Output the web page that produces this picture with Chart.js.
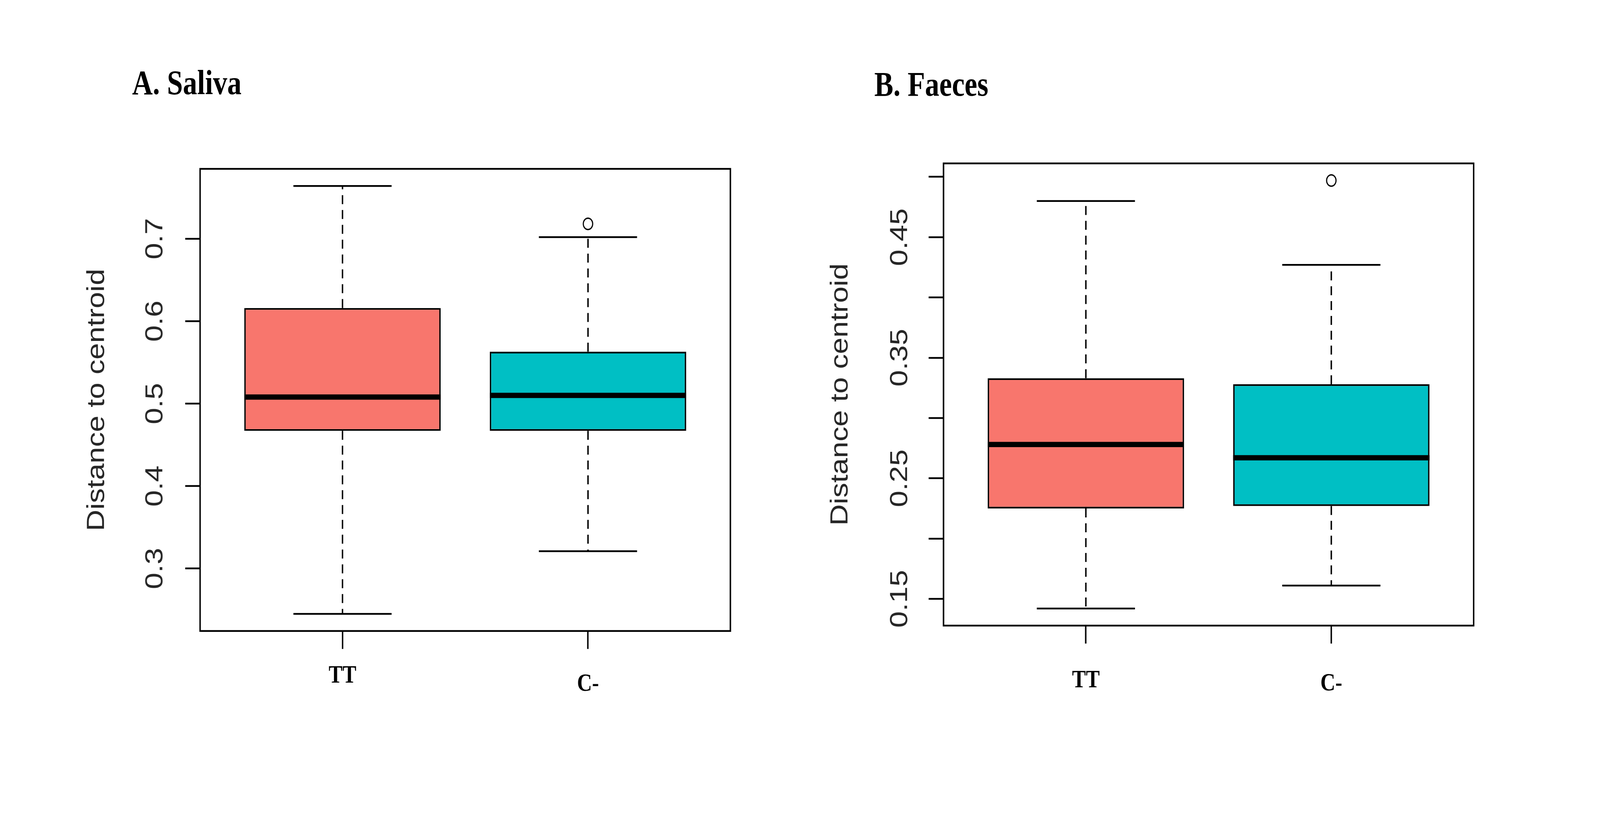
<!DOCTYPE html>
<html>
<head>
<meta charset="utf-8">
<title>Distance to centroid</title>
<script src="https://cdn.jsdelivr.net/npm/chart.js@4.4.1/dist/chart.umd.min.js"></script>
<style>
  html, body { margin: 0; padding: 0; background: #fff; overflow: hidden; }
  #moldura { position: relative; overflow: hidden; background: #fff; }
  #pagina {
    position: absolute; left: 0; top: 0;
    width: 4939px; height: 2087px;
    transform-origin: 0 0;
    background: #fff;
  }
  .painel { position: absolute; top: 0; }
  .titulo {
    position: absolute;
    font-family: 'Liberation Serif', 'Times New Roman', serif;
    font-weight: bold;
    font-size: 88px;
    line-height: 88px;
    color: #000;
    white-space: nowrap;
  }
</style>
</head>
<body>
<div id="moldura">
  <div id="pagina">
    <canvas id="grafico-saliva" class="painel" width="2470" height="2087" style="left:0px"></canvas>
    <canvas id="grafico-faeces" class="painel" width="2469" height="2087" style="left:2470px"></canvas>
    <div class="titulo" style="left:408px; top:168px;">A. Saliva</div>
    <div class="titulo" style="left:2699px; top:172px;">B. Faeces</div>
  </div>
</div>
<script>
// Grupos
const grupos = ['TT', 'C-'];
const cores = ['#F8766D', '#00BFC4'];

// A. Saliva
const salivaMin = [0.245, 0.321];
const salivaQ1 = [0.467, 0.467];
const salivaMediana = [0.508, 0.510];
const salivaQ3 = [0.616, 0.563];
const salivaMax = [0.764, 0.702];
const salivaOutliers = [[], [0.718]];
const salivaTicks = [0.3, 0.4, 0.5, 0.6, 0.7];
const salivaTickLabels = ['0.3', '0.4', '0.5', '0.6', '0.7'];

// B. Faeces
const faecesMin = [0.142, 0.161];
const faecesQ1 = [0.225, 0.227];
const faecesMediana = [0.278, 0.267];
const faecesQ3 = [0.333, 0.328];
const faecesMax = [0.480, 0.427];
const faecesOutliers = [[], [0.497]];
const faecesTicks = [0.15, 0.20, 0.25, 0.30, 0.35, 0.40, 0.45, 0.50];
const faecesTickLabels = ['0.15', '', '0.25', '', '0.35', '', '0.45', ''];

// Posicionamento de cada painel (pixels da figura original)
const layoutSaliva = {
    padding: { top: 432.4, right: 215.5, bottom: 171.2, left: 200 },
    larguraEixoY: 417.7,
    alturaEixoX: 300,
    tituloPadding: 62.4,
    ticksPadding: 38.5,
    alturaLinhaRotulos: [1.54, 2.2]
};

const layoutFaeces = {
    padding: { top: 418.4, right: 390, bottom: 185, left: 40 },
    larguraEixoY: 402.5,
    alturaEixoX: 300,
    tituloPadding: 47.4,
    ticksPadding: 13.8,
    alturaLinhaRotulos: [2.37, 2.6]
};

const LARGURA = 4939;
const ALTURA = 2087;
const LINHA = 4.5;
const FONTE_EIXO = "'Liberation Sans', Arial, sans-serif";
const FONTE_GRUPO = "'Liberation Serif', 'Times New Roman', serif";

// A página é desenhada em pixels da figura e ajustada à janela
const escalaX = window.innerWidth / LARGURA;
const escalaY = window.innerHeight / ALTURA;
const moldura = document.getElementById('moldura');
moldura.style.width = (LARGURA * escalaX) + 'px';
moldura.style.height = (ALTURA * escalaY) + 'px';
document.getElementById('pagina').style.transform = `scale(${escalaX}, ${escalaY})`;

// Bigodes, medianas e moldura desenhados com as escalas do Chart.js
function pluginBoxplot(stats) {
    return {
        id: 'boxplot',
        afterDatasetsDraw(chart) {
            const { ctx, chartArea, scales: { x, y } } = chart;
            ctx.save();
            ctx.strokeStyle = '#000';
            ctx.lineCap = 'butt';

            stats.min.forEach((_, i) => {
                const pos = i + 1;
                const cx = x.getPixelForValue(pos);

                // bigodes tracejados
                ctx.lineWidth = LINHA;
                ctx.setLineDash([23, 15]);
                ctx.beginPath();
                ctx.moveTo(cx, y.getPixelForValue(stats.q3[i]));
                ctx.lineTo(cx, y.getPixelForValue(stats.max[i]));
                ctx.moveTo(cx, y.getPixelForValue(stats.q1[i]));
                ctx.lineTo(cx, y.getPixelForValue(stats.min[i]));
                ctx.stroke();

                // hastes
                ctx.setLineDash([]);
                const xa = x.getPixelForValue(pos - 0.2);
                const xb = x.getPixelForValue(pos + 0.2);
                ctx.beginPath();
                ctx.moveTo(xa, y.getPixelForValue(stats.max[i]));
                ctx.lineTo(xb, y.getPixelForValue(stats.max[i]));
                ctx.moveTo(xa, y.getPixelForValue(stats.min[i]));
                ctx.lineTo(xb, y.getPixelForValue(stats.min[i]));
                ctx.stroke();

                // mediana
                ctx.lineWidth = LINHA * 3;
                ctx.beginPath();
                ctx.moveTo(x.getPixelForValue(pos - 0.4), y.getPixelForValue(stats.mediana[i]));
                ctx.lineTo(x.getPixelForValue(pos + 0.4), y.getPixelForValue(stats.mediana[i]));
                ctx.stroke();
            });

            // moldura
            ctx.lineWidth = LINHA;
            ctx.strokeRect(chartArea.left, chartArea.top,
                chartArea.right - chartArea.left, chartArea.bottom - chartArea.top);
            ctx.restore();
        }
    };
}

function criarGrafico(canvasId, stats, ticksY, rotulosY, layout) {
    // faixa do eixo y como no R: 4% além dos dados
    const todos = stats.min.concat(stats.max, stats.outliers.flat());
    const lo = Math.min(...todos);
    const hi = Math.max(...todos);
    const margem = (hi - lo) * 0.04;

    const caixas = grupos.map((g, i) => ({ x: i + 1, y: [stats.q1[i], stats.q3[i]] }));
    const pontos = [];
    stats.outliers.forEach((lista, i) => lista.forEach(v => pontos.push({ x: i + 1, y: v })));

    return new Chart(document.getElementById(canvasId), {
        type: 'bar',
        data: {
            datasets: [
                {
                    type: 'bar',
                    data: caixas,
                    backgroundColor: cores,
                    borderColor: '#000',
                    borderWidth: LINHA,
                    borderSkipped: false,
                    barPercentage: 0.8,
                    categoryPercentage: 1
                },
                {
                    type: 'scatter',
                    data: pontos,
                    pointRadius: 14.5,
                    pointHoverRadius: 14.5,
                    pointBorderWidth: 3.5,
                    pointBorderColor: '#000',
                    pointBackgroundColor: 'rgba(0,0,0,0)'
                }
            ]
        },
        options: {
            responsive: false,
            devicePixelRatio: 1,
            animation: false,
            events: [],
            layout: { padding: layout.padding },
            plugins: {
                legend: { display: false },
                tooltip: { enabled: false },
                title: { display: false }
            },
            scales: {
                x: {
                    type: 'linear',
                    min: 0.5 - 0.04 * grupos.length,
                    max: grupos.length + 0.5 + 0.04 * grupos.length,
                    offset: false,
                    grid: {
                        offset: false,
                        drawOnChartArea: false,
                        drawTicks: true,
                        tickLength: 46,
                        tickWidth: LINHA,
                        tickColor: '#000'
                    },
                    border: { display: false },
                    ticks: {
                        autoSkip: false,
                        minRotation: 0,
                        maxRotation: 0,
                        padding: 20,
                        color: '#000',
                        font: (ctx) => ({
                            family: FONTE_GRUPO,
                            weight: 'bold',
                            size: 64,
                            lineHeight: layout.alturaLinhaRotulos[ctx.index] || 1.5
                        }),
                        callback: (valor, indice) => grupos[indice]
                    },
                    afterBuildTicks: (escala) => {
                        escala.ticks = grupos.map((g, i) => ({ value: i + 1 }));
                    },
                    afterFit: (escala) => {
                        escala.height = layout.alturaEixoX;
                    }
                },
                y: {
                    type: 'linear',
                    min: lo - margem,
                    max: hi + margem,
                    beginAtZero: false,
                    grid: {
                        drawOnChartArea: false,
                        drawTicks: true,
                        tickLength: 46,
                        tickWidth: LINHA,
                        tickColor: '#000'
                    },
                    border: { display: false },
                    ticks: {
                        autoSkip: false,
                        minRotation: 90,
                        maxRotation: 90,
                        crossAlign: 'center',
                        padding: layout.ticksPadding,
                        color: '#262626',
                        font: { family: FONTE_EIXO, size: 76, lineHeight: 1.2 },
                        callback: (valor, indice) => rotulosY[indice]
                    },
                    afterBuildTicks: (escala) => {
                        escala.ticks = ticksY.map(v => ({ value: v }));
                    },
                    title: {
                        display: true,
                        text: 'Distance to centroid',
                        color: '#262626',
                        font: { family: FONTE_EIXO, size: 76, lineHeight: 1 },
                        padding: { top: layout.tituloPadding, bottom: 0 }
                    },
                    afterFit: (escala) => {
                        escala.width = layout.larguraEixoY;
                    }
                }
            }
        },
        plugins: [pluginBoxplot(stats)]
    });
}

criarGrafico('grafico-saliva', {
    min: salivaMin, q1: salivaQ1, mediana: salivaMediana, q3: salivaQ3,
    max: salivaMax, outliers: salivaOutliers
}, salivaTicks, salivaTickLabels, layoutSaliva);

criarGrafico('grafico-faeces', {
    min: faecesMin, q1: faecesQ1, mediana: faecesMediana, q3: faecesQ3,
    max: faecesMax, outliers: faecesOutliers
}, faecesTicks, faecesTickLabels, layoutFaeces);
</script>
</body>
</html>
